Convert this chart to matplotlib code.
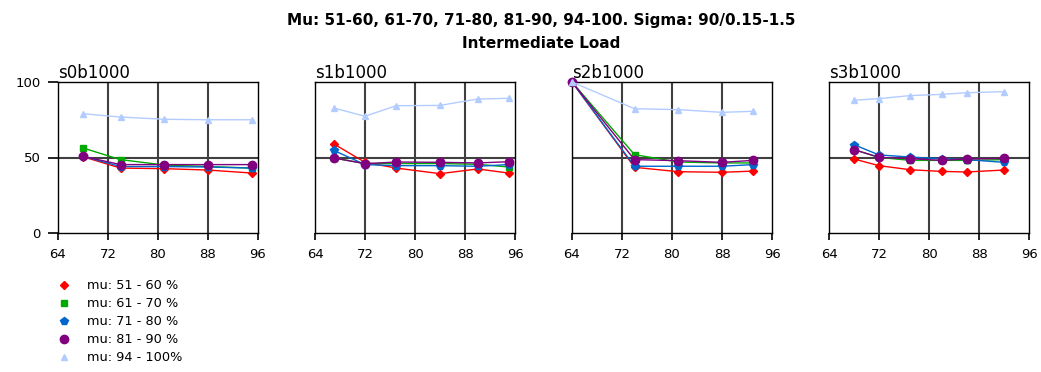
import matplotlib
matplotlib.use("Agg")
import matplotlib.pyplot as plt

plt.rcParams['font.family'] = ['DejaVu Sans']

panel_names = ["s0b1000", "s1b1000", "s2b1000", "s3b1000"]
series_labels = ["mu: 51 - 60 %", "mu: 61 - 70 %", "mu: 71 - 80 %",
                 "mu: 81 - 90 %", "mu: 94 - 100%"]

# x positions (load) per panel
x_s0 = [68, 74, 81, 88, 95]
x_s1 = [67, 72, 77, 84, 90, 95]
x_s2 = [64, 74, 81, 88, 93]
x_s3 = [68, 72, 77, 82, 86, 92]

# values per panel, one list per series (51-60, 61-70, 71-80, 81-90, 94-100)
s0_vals = [
    [50.5, 43.0, 42.6, 41.7, 39.7],
    [56.3, 48.6, 45.0, 44.0, 43.0],
    [50.8, 44.0, 44.0, 43.7, 43.0],
    [50.8, 45.3, 45.3, 45.3, 45.3],
    [79.0, 76.8, 75.3, 75.0, 75.0],
]
s1_vals = [
    [59.0, 46.8, 43.0, 39.3, 42.4, 39.7],
    [49.7, 46.0, 46.0, 46.0, 45.5, 43.7],
    [54.7, 45.3, 44.6, 44.6, 44.2, 45.3],
    [49.7, 45.9, 47.0, 46.8, 46.4, 47.2],
    [82.8, 77.3, 84.3, 84.5, 88.7, 89.2],
]
s2_vals = [
    [100, 43.5, 40.6, 40.2, 41.0],
    [100, 51.9, 47.0, 46.4, 46.4],
    [100, 44.2, 44.2, 44.2, 45.3],
    [100, 48.6, 47.9, 46.8, 48.1],
    [100, 82.3, 81.7, 79.9, 80.6],
]
s3_vals = [
    [49.0, 44.6, 41.9, 40.8, 40.4, 41.7],
    [55.2, 50.1, 48.1, 48.1, 48.1, 48.6],
    [58.5, 51.7, 50.3, 49.2, 48.6, 46.8],
    [55.2, 50.1, 49.2, 48.1, 49.0, 49.4],
    [87.9, 89.0, 91.0, 91.8, 92.9, 93.6],
]

panels = [(x_s0, s0_vals), (x_s1, s1_vals), (x_s2, s2_vals), (x_s3, s3_vals)]

colors = ["#ff0000", "#00aa00", "#0066cc", "#800080", "#b3ccff"]
markers = ["D", "s", "p", "o", "^"]
msizes = [4, 5, 5.5, 6, 5]

W, H = 1041, 372
fig = plt.figure(figsize=(W / 100, H / 100), dpi=100)

lefts = [58, 315, 572, 829]
for i, (name, (xs, vals)) in enumerate(zip(panel_names, panels)):
    ax = fig.add_axes([lefts[i] / W, 1 - 233 / H, 200 / W, 151 / H])
    for v in (72, 80, 88):
        ax.axvline(v, color="#404040", lw=1.5, zorder=1)
    ax.axhline(50, color="#404040", lw=1.5, zorder=1)
    for j, ys in enumerate(vals):
        ax.plot(xs, ys, color=colors[j], marker=markers[j], ms=msizes[j],
                lw=1.0, zorder=3 + j, clip_on=False, label=series_labels[j])
    ax.set_xlim(64, 96)
    ax.set_ylim(0, 100)
    ax.set_xticks([64, 72, 80, 88, 96])
    ax.set_yticks([0, 50, 100])
    for sp in ax.spines.values():
        sp.set_linestyle((0, (1, 1)))
        sp.set_linewidth(1.0)
        sp.set_color("black")
    ax.tick_params(axis="x", direction="out", length=5, width=1.2,
                   labelsize=9.5, pad=6)
    ax.tick_params(axis="y", direction="out", length=7.5, width=1.2,
                   labelsize=9.5, pad=5)
    if i != 0:
        ax.tick_params(axis="y", left=False, labelleft=False)
    ax.set_title(name, loc="left", fontsize=12, pad=0.5)

fig.text(541 / W, 1 - 20 / H,
         "Mu: 51-60, 61-70, 71-80, 81-90, 94-100. Sigma: 90/0.15-1.5",
         ha="center", va="center", fontsize=11.0, fontweight="bold")
fig.text(541 / W, 1 - 43 / H, "Intermediate Load",
         ha="center", va="center", fontsize=11.0, fontweight="bold")

leg_handles = [plt.Line2D([], [], color=colors[j], marker=markers[j],
                          ms=msizes[j], lw=0) for j in range(5)]
fig.legend(leg_handles, series_labels, loc="upper left",
           bbox_to_anchor=(48 / W, 1 - 273 / H), frameon=False,
           fontsize=9.3, handlelength=1.5, handletextpad=1.0,
           labelspacing=0.38, borderpad=0)

fig.savefig("out.png", dpi=100)
